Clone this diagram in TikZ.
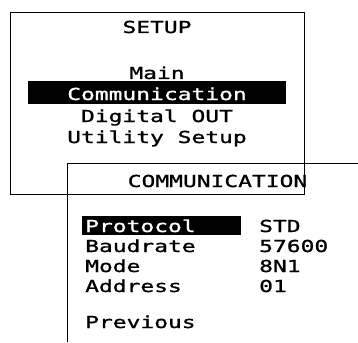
\documentclass[tikz,border=0pt]{standalone}
\usepackage{fontspec}
\newfontfamily\lcd[FakeStretch=1.39,FakeBold=1.2]{DejaVu Sans Mono}
\begin{document}
\begin{tikzpicture}[x=1pt,y=-1pt,
  txt/.style={inner sep=0pt, font=\lcd\fontsize{16.5}{17}\selectfont},
  ctr/.style={txt, anchor=base},
  lft/.style={txt, anchor=base west},
  inv/.style={text=white},
  frame/.style={line width=0.9pt},
  bar/.style={fill=black}]
\useasboundingbox (0,0) rectangle (358,342);
% SETUP screen
\draw[frame] (10,12) rectangle (304,194);
\node[ctr] (setup) at (157,33) {SETUP};
\node[ctr] (main) at (157,79) {Main};
\fill[bar] (28,81) rectangle (286,104);
\node[ctr, inv] (comm) at (157,100) {Communication};
\node[ctr] (dig) at (157,122) {Digital OUT};
\node[ctr] (util) at (157,143) {Utility Setup};
% COMMUNICATION screen
\coordinate (tr) at (358,163);
\coordinate (tl) at (67,163);
\coordinate (bl) at (67,342);
\draw[frame] (tr) -- (tl) -- (bl);
\node[ctr] (title) at (217.5,187) {COMMUNICATION};
\fill[bar] (82,216) rectangle (241,235);
\node[lft, inv] (proto) at (85,232) {Protocol};
\node[lft] (baud) at (85,252) {Baudrate};
\node[lft] (mode) at (85,272) {Mode};
\node[lft] (addr) at (85,292) {Address};
\node[lft] (prev) at (85,328) {Previous};
\node[lft] (vproto) at (259,232) {STD};
\node[lft] (vbaud) at (259,252) {57600};
\node[lft] (vmode) at (259,272) {8N1};
\node[lft] (vaddr) at (259,292) {01};
\end{tikzpicture}
\end{document}
